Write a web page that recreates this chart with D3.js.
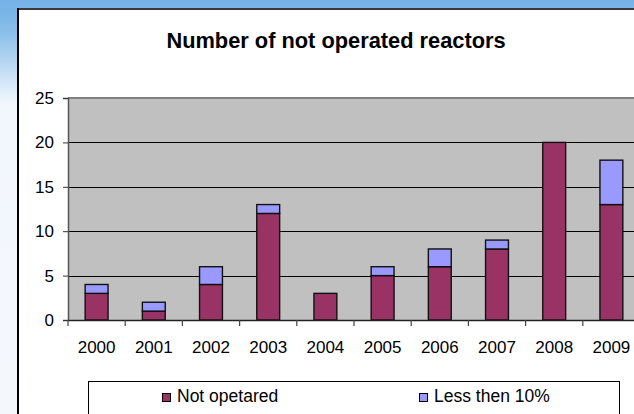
<!DOCTYPE html>
<html>
<head>
<meta charset="utf-8">
<script src="https://cdn.jsdelivr.net/npm/d3@7/dist/d3.min.js"></script>
<style>
html,body{margin:0;padding:0;background:#fff;overflow:hidden}
svg{display:block}
text{font-family:"Liberation Sans",Arial,sans-serif;fill:#000}
</style>
</head>
<body>
<svg id="chart" width="634" height="414"></svg>
<script>
const title = "Number of not operated reactors";
const years = ["2000","2001","2002","2003","2004","2005","2006","2007","2008","2009"];
const notOperated = [3,1,4,12,3,5,6,8,20,13];
const lessThen10 = [1,1,2,1,0,1,2,1,0,5];
const seriesNames = ["Not opetared","Less then 10%"];
const seriesColors = ["#993366","#9999FF"];
const yTicks = [0,5,10,15,20,25];

const svg = d3.select("#chart");
const W = 634, H = 414;

// background decoration (slide frame)
const defs = svg.append("defs");
const gl = defs.append("linearGradient").attr("id","leftGrad").attr("x1",0).attr("y1",0).attr("x2",0).attr("y2",1);
gl.append("stop").attr("offset","0").attr("stop-color","#6eaee3");
gl.append("stop").attr("offset","0.08").attr("stop-color","#8cc0ea");
gl.append("stop").attr("offset","0.23").attr("stop-color","#e6f1fb");
gl.append("stop").attr("offset","0.25").attr("stop-color","#f2f7fd");
gl.append("stop").attr("offset","1").attr("stop-color","#f4f8fd");
const gt = defs.append("linearGradient").attr("id","topGrad").attr("x1",0).attr("y1",0).attr("x2",0).attr("y2",1);
gt.append("stop").attr("offset","0").attr("stop-color","#74b2e6");
gt.append("stop").attr("offset","1").attr("stop-color","#7ab6e8");

svg.append("rect").attr("x",0).attr("y",0).attr("width",18).attr("height",H).attr("fill","url(#leftGrad)");
svg.append("rect").attr("x",0).attr("y",0).attr("width",W).attr("height",8).attr("fill","url(#topGrad)");
// chart area
svg.append("rect").attr("x",18).attr("y",9).attr("width",W-18).attr("height",H-9).attr("fill","#fff");
svg.append("line").attr("x1",17).attr("x2",W).attr("y1",9).attr("y2",9).attr("stroke","#3a3a3a").attr("stroke-width",2);
svg.append("line").attr("x1",18).attr("x2",18).attr("y1",8).attr("y2",H).attr("stroke","#000").attr("stroke-width",2);

// title
svg.append("text").attr("x",336).attr("y",48).attr("text-anchor","middle")
  .attr("font-size",21.8).attr("font-weight","bold").text(title);

// scales
const plot = {left:68, top:98, bottom:320, right:640};
const x = d3.scaleBand().domain(years).range([plot.left, plot.right]).paddingInner(0.6).paddingOuter(0.3);
const y = d3.scaleLinear().domain([0,25]).range([plot.bottom, plot.top]);

const clip = defs.append("clipPath").attr("id","clipW");
clip.append("rect").attr("x",0).attr("y",0).attr("width",W).attr("height",H);
const g = svg.append("g").attr("clip-path","url(#clipW)");

// plot background
g.append("rect").attr("x",plot.left).attr("y",plot.top).attr("width",plot.right-plot.left).attr("height",plot.bottom-plot.top).attr("fill","#C0C0C0");

// gridlines
g.append("g").selectAll("line").data(yTicks.filter(d=>d>0&&d<25)).join("line")
  .attr("x1",plot.left).attr("x2",plot.right)
  .attr("y1",d=>Math.round(y(d))+0.5).attr("y2",d=>Math.round(y(d))+0.5)
  .attr("stroke","#000").attr("stroke-width",1);
// plot border top
g.append("line").attr("x1",plot.left).attr("x2",plot.right).attr("y1",plot.top).attr("y2",plot.top).attr("stroke","#808080").attr("stroke-width",2);

// stacked bars
const stackData = years.map((yr,i)=>({year:yr, a:notOperated[i], b:lessThen10[i]}));
const stacked = d3.stack().keys(["a","b"])(stackData);
g.append("g").selectAll("g").data(stacked).join("g")
  .attr("fill",(d,i)=>seriesColors[i])
  .selectAll("rect").data(d=>d.filter(s=>s[1]-s[0]>0)).join("rect")
  .attr("x",d=>x(d.data.year))
  .attr("width",x.bandwidth())
  .attr("y",d=>y(d[1]))
  .attr("height",d=>y(d[0])-y(d[1]))
  .attr("stroke","#111").attr("stroke-width",1.4);

// y axis
const yAxis = d3.axisLeft(y).tickValues(yTicks).tickSize(5).tickPadding(9);
const ya = g.append("g").attr("transform",`translate(${plot.left},0)`).call(yAxis);
ya.select(".domain").attr("stroke","#555").attr("stroke-width",1.5);
ya.selectAll(".tick line").attr("stroke","#333");
ya.selectAll("text").attr("font-size",17).attr("font-family","Liberation Sans, Arial, sans-serif").attr("fill","#000");

// x axis
const step = x.step();
const xa = g.append("g").attr("transform",`translate(0,${plot.bottom})`).call(d3.axisBottom(x).tickSize(0).tickPadding(21));
xa.select(".domain").attr("stroke","#222").attr("stroke-width",1.5);
xa.selectAll("text").attr("font-size",17).attr("font-family","Liberation Sans, Arial, sans-serif").attr("fill","#000");
// category boundary ticks
g.append("g").selectAll("line").data(d3.range(years.length + 1)).join("line")
  .attr("x1",i=>plot.left + i*step)
  .attr("x2",i=>plot.left + i*step)
  .attr("y1",plot.bottom).attr("y2",plot.bottom+6)
  .attr("stroke","#444").attr("stroke-width",1.2);

// legend
svg.append("rect").attr("x",88.5).attr("y",381.5).attr("width",531).attr("height",60)
  .attr("fill","#fff").attr("stroke","#000").attr("stroke-width",1);
const legX = [162, 419];
const leg = svg.append("g").selectAll("g").data(seriesNames).join("g")
  .attr("transform",(d,i)=>`translate(${legX[i]},393)`);
leg.append("rect").attr("x",0.5).attr("y",0.5).attr("width",8).attr("height",8)
  .attr("fill",(d,i)=>seriesColors[i]).attr("stroke","#000").attr("stroke-width",1);
leg.append("text").attr("x",15).attr("y",9).attr("font-size",17.5).text(d=>d);
</script>
</body>
</html>
